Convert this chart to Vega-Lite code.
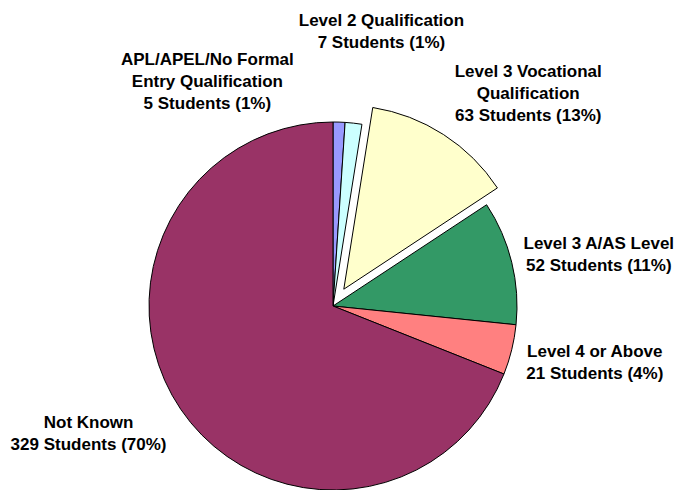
{
  "$schema": "https://vega.github.io/schema/vega-lite/v6.json",
  "width": 368,
  "height": 368,
  "autosize": {"type": "none"},
  "padding": {"left": 149, "top": 122, "right": 161, "bottom": 0},
  "background": "white",
  "config": {"view": {"stroke": null}, "text": {"font": "Liberation Sans"}},
  "data": {
    "values": [
      {"cat": "APL", "students": 5, "order": 1, "label": "APL/APEL/No Formal\nEntry Qualification\n5 Students (1%)"},
      {"cat": "L2", "students": 7, "order": 2, "label": "Level 2 Qualification\n7 Students (1%)"},
      {"cat": "L3V", "students": 63, "order": 3, "label": "Level 3 Vocational\nQualification\n63 Students (13%)"},
      {"cat": "L3A", "students": 52, "order": 4, "label": "Level 3 A/AS Level\n52 Students (11%)"},
      {"cat": "L4", "students": 21, "order": 5, "label": "Level 4 or Above\n21 Students (4%)"},
      {"cat": "NK", "students": 329, "order": 6, "label": "Not Known\n329 Students (70%)"}
    ]
  },
  "encoding": {
    "theta": {"field": "students", "type": "quantitative", "stack": true},
    "order": {"field": "order", "type": "quantitative"}
  },
  "layer": [
    {
      "mark": {"type": "arc", "stroke": "black", "strokeWidth": 1},
      "encoding": {
        "color": {
          "field": "cat", "type": "nominal", "legend": null,
          "scale": {"domain": ["APL", "L2", "L3V", "L3A", "L4", "NK"],
                    "range": ["#9999FF", "#CCFFFF", "#FFFFCC", "#339966", "#FF8080", "#993366"]}
        },
        "opacity": {"condition": {"test": "datum.cat === 'L3V'", "value": 0}, "value": 1}
      }
    },
    {
      "mark": {"type": "arc", "stroke": "black", "strokeWidth": 1, "xOffset": 10.8, "yOffset": -16.8},
      "encoding": {
        "color": {"field": "cat", "type": "nominal", "legend": null},
        "opacity": {"condition": {"test": "datum.cat === 'L3V'", "value": 1}, "value": 0}
      }
    },
    {
      "mark": {"type": "text", "radius": 254, "dx": -134, "dy": 0, "align": "center", "baseline": "top", "fontSize": 17, "fontWeight": "bold", "lineBreak": "\n", "lineHeight": 22, "color": "black"},
      "encoding": {"text": {"condition": {"test": "datum.cat === 'APL'", "field": "label"}, "value": ""}}
    },
    {
      "mark": {"type": "text", "radius": 290, "dx": 16, "dy": -5, "align": "center", "baseline": "top", "fontSize": 17, "fontWeight": "bold", "lineBreak": "\n", "lineHeight": 22, "color": "black"},
      "encoding": {"text": {"condition": {"test": "datum.cat === 'L2'", "field": "label"}, "value": ""}}
    },
    {
      "mark": {"type": "text", "radius": 290, "dx": 38, "dy": 2, "align": "center", "baseline": "top", "fontSize": 17, "fontWeight": "bold", "lineBreak": "\n", "lineHeight": 22, "color": "black"},
      "encoding": {"text": {"condition": {"test": "datum.cat === 'L3V'", "field": "label"}, "value": ""}}
    },
    {
      "mark": {"type": "text", "radius": 250, "dx": 23, "dy": -10, "align": "center", "baseline": "top", "fontSize": 17, "fontWeight": "bold", "lineBreak": "\n", "lineHeight": 22, "color": "black"},
      "encoding": {"text": {"condition": {"test": "datum.cat === 'L3A'", "field": "label"}, "value": ""}}
    },
    {
      "mark": {"type": "text", "radius": 250, "dx": 19, "dy": -22, "align": "center", "baseline": "top", "fontSize": 17, "fontWeight": "bold", "lineBreak": "\n", "lineHeight": 22, "color": "black"},
      "encoding": {"text": {"condition": {"test": "datum.cat === 'L4'", "field": "label"}, "value": ""}}
    },
    {
      "mark": {"type": "text", "radius": 270, "dx": -21, "dy": -43, "align": "center", "baseline": "top", "fontSize": 17, "fontWeight": "bold", "lineBreak": "\n", "lineHeight": 22, "color": "black"},
      "encoding": {"text": {"condition": {"test": "datum.cat === 'NK'", "field": "label"}, "value": ""}}
    }
  ]
}
